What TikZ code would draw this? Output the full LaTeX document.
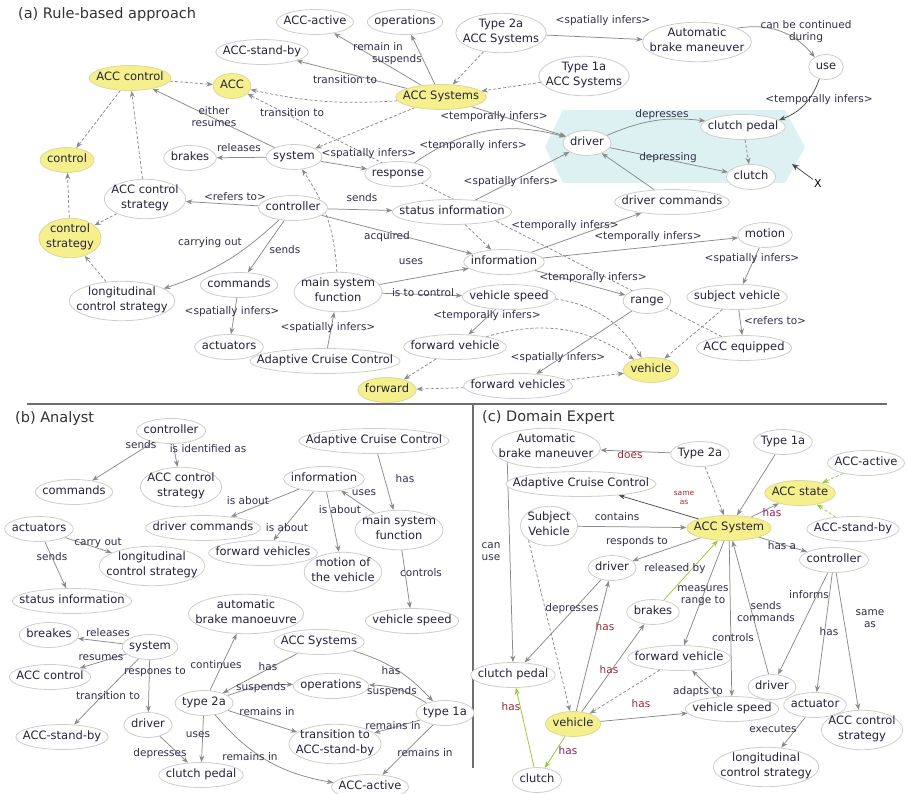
\documentclass[tikz,border=0pt]{standalone}
\usepackage{fontspec}
\setmainfont{DejaVu Sans}
\usetikzlibrary{arrows.meta,shapes.geometric}
\definecolor{ndline}{HTML}{CDCDCD}
\definecolor{ndtext}{HTML}{24243A}
\definecolor{lbtext}{HTML}{30304A}
\definecolor{edgec}{HTML}{8A8A8A}
\definecolor{yel}{HTML}{F6F08C}
\definecolor{yelline}{HTML}{DCD79A}
\definecolor{cyanbg}{HTML}{DDF0F2}
\definecolor{dred}{HTML}{9A2A35}
\definecolor{dpurp}{HTML}{8A2066}
\definecolor{lgreen}{HTML}{92CC2E}
\definecolor{divider}{HTML}{6E6E6E}
\newsavebox\ntbox
\newcommand\nt[1]{\sbox\ntbox{\begin{tabular}{@{}c@{}}#1\end{tabular}}%
  \makebox[0.7071\wd\ntbox][c]{\raisebox{0pt}[0.7071\ht\ntbox][0.7071\dp\ntbox]{\usebox\ntbox}}}
\pgfdeclarelayer{bg}
\pgfdeclarelayer{edges}
\pgfsetlayers{bg,edges,main}
\tikzset{
  nd/.style={ellipse, draw=ndline, line width=0.8pt, fill=white, text=ndtext,
    inner xsep=5pt, inner ysep=3.7pt, outer sep=0.4pt, font=\fontsize{11.5}{14.5}\selectfont},
  hl/.style={nd, fill=yel, draw=yelline},
  lbl/.style={text=lbtext, font=\fontsize{10.5}{12}\selectfont, inner sep=0pt, align=center},
  ttl/.style={anchor=west, inner sep=0pt, text=black!80, font=\fontsize{14.5}{17}\selectfont},
  e/.style={draw=edgec, line width=0.75pt, -{Stealth[length=6.5pt,width=5pt]}},
  ed/.style={e, dash pattern=on 3pt off 2pt},
  ek/.style={e, draw=black!70},
  eg/.style={e, draw=lgreen},
  egd/.style={ed, draw=lgreen},
}
\begin{document}
\begin{tikzpicture}[x=1pt,y=1pt]
\useasboundingbox (0,0) rectangle (910,-794);
\begin{pgfonlayer}{bg}
\fill[white] (0,0) rectangle (910,-794);
\fill[cyanbg] (563,-110) -- (785,-110) -- (805,-147) -- (785,-183) -- (563,-183) -- (545,-147) -- cycle;
\draw[divider, line width=1.6pt] (27,-404) -- (887,-404);
\draw[divider, line width=1.6pt] (473,-404) -- (473,-768);
\end{pgfonlayer}

% ---------------- (a) ----------------
\node[ttl] (aT) at (18,-15) {(a) Rule-based approach};
\node[nd] (aAccActive) at (315,-22) {\nt{ACC-active}};
\node[nd] (aOps) at (405,-22) {\nt{operations}};
\node[nd] (aT2a) at (501,-33) {\nt{Type 2a\\ACC Systems}};
\node[nd] (aABM) at (697,-42) {\nt{Automatic\\brake maneuver}};
\node[nd] (aUse) at (826,-67) {\nt{use}};
\node[nd] (aStandby) at (262,-52) {\nt{ACC-stand-by}};
\node[nd] (aT1a) at (584,-76) {\nt{Type 1a\\ACC Systems}};
\node[hl] (aAccCtrl) at (130,-78) {\nt{ACC control}};
\node[hl] (aAcc) at (232,-86) {\nt{ACC}};
\node[hl] (aSys) at (441,-97) {\nt{ACC Systems}};
\node[hl] (aControl) at (67,-160) {\nt{control}};
\node[nd] (aBrakes) at (190,-158) {\nt{brakes}};
\node[nd] (aSystem) at (294,-157) {\nt{system}};
\node[nd] (aResp) at (398,-174) {\nt{response}};
\node[nd] (aDriver) at (587,-143) {\nt{driver}};
\node[nd] (aCP) at (743,-127) {\nt{clutch pedal}};
\node[nd] (aClutch) at (751,-177) {\nt{clutch}};
\node[inner sep=1pt, text=black, font=\fontsize{11}{13}\selectfont] (aX) at (818,-183) {X};
\coordinate (aXt) at (792,-164);
\node[nd] (aACS) at (145,-199) {\nt{ACC control\\strategy}};
\node[nd] (aCtrl) at (293,-208) {\nt{controller}};
\node[nd] (aStatus) at (452,-212) {\nt{status information}};
\node[nd] (aDC) at (672,-202) {\nt{driver commands}};
\node[hl] (aCS) at (70,-238) {\nt{control\\strategy}};
\node[nd] (aInfo) at (504,-262) {\nt{information}};
\node[nd] (aMotion) at (765,-235) {\nt{motion}};
\node[nd] (aCmd) at (239,-285) {\nt{commands}};
\node[nd] (aLCS) at (122,-301) {\nt{longitudinal\\control strategy}};
\node[nd] (aMSF) at (338,-292) {\nt{main system\\function}};
\node[nd] (aVS) at (509,-297) {\nt{vehicle speed}};
\node[nd] (aRange) at (647,-301) {\nt{range}};
\node[nd] (aSV) at (737,-297) {\nt{subject vehicle}};
\node[nd] (aAct) at (229,-347) {\nt{actuators}};
\node[nd] (aAdapt) at (325,-361) {\nt{Adaptive Cruise Control}};
\node[nd] (aFV) at (455,-347) {\nt{forward vehicle}};
\node[nd] (aEquip) at (744,-348) {\nt{ACC equipped}};
\node[hl] (aVeh) at (651,-370) {\nt{vehicle}};
\node[nd] (aFVs) at (518,-386) {\nt{forward vehicles}};
\node[hl] (aFwd) at (387,-390) {\nt{forward}};

% ---------------- (b) ----------------
\node[ttl] (bT) at (15,-418) {(b) Analyst};
\node[nd] (bCtrl) at (171,-431) {\nt{controller}};
\node[nd] (bCmd) at (74,-492) {\nt{commands}};
\node[nd] (bACS) at (181,-487) {\nt{ACC control\\strategy}};
\node[nd] (bAdapt) at (374,-441) {\nt{Adaptive Cruise Control}};
\node[nd] (bInfo) at (324,-479) {\nt{information}};
\node[nd] (bMSF) at (399,-530) {\nt{main system\\function}};
\node[nd] (bAct) at (39,-529) {\nt{actuators}};
\node[nd] (bDC) at (203,-528) {\nt{driver commands}};
\node[nd] (bFVs) at (263,-553) {\nt{forward vehicles}};
\node[nd] (bMotion) at (343,-572) {\nt{motion of\\the vehicle}};
\node[nd] (bLCS) at (152,-566) {\nt{longitudinal\\control strategy}};
\node[nd] (bStatus) at (72,-601) {\nt{status information}};
\node[nd] (bVS) at (412,-621) {\nt{vehicle speed}};
\node[nd] (bABM) at (246,-614) {\nt{automatic\\brake manoeuvre}};
\node[nd] (bBreakes) at (49,-635) {\nt{breakes}};
\node[nd] (bSystem) at (150,-647) {\nt{system}};
\node[nd] (bSys) at (319,-642) {\nt{ACC Systems}};
\node[nd] (bAccCtrl) at (50,-677) {\nt{ACC control}};
\node[nd] (bOps) at (331,-686) {\nt{operations}};
\node[nd] (bT2a) at (204,-703) {\nt{type 2a}};
\node[nd] (bT1a) at (445,-713) {\nt{type 1a}};
\node[nd] (bDriver) at (148,-725) {\nt{driver}};
\node[nd] (bStandby) at (62,-737) {\nt{ACC-stand-by}};
\node[nd] (bTrans) at (335,-744) {\nt{transition to\\ACC-stand-by}};
\node[nd] (bCP) at (201,-775) {\nt{clutch pedal}};
\node[nd] (bActive) at (370,-787) {\nt{ACC-active}};

% ---------------- (c) ----------------
\node[ttl] (cT) at (482,-417) {(c) Domain Expert};
\node[nd] (cABM) at (546,-448) {\nt{Automatic\\brake maneuver}};
\node[nd] (cT2a) at (700,-454) {\nt{Type 2a}};
\node[nd] (cT1a) at (783,-442) {\nt{Type 1a}};
\node[nd] (cActive) at (866,-463) {\nt{ACC-active}};
\node[nd] (cAdapt) at (581,-484) {\nt{Adaptive Cruise Control}};
\node[hl] (cState) at (800,-493) {\nt{ACC state}};
\node[nd] (cSV) at (549,-526) {\nt{Subject\\Vehicle}};
\node[hl] (cSys) at (729,-528) {\nt{ACC System}};
\node[nd] (cStandby) at (853,-529) {\nt{ACC-stand-by}};
\node[nd] (cCtrl) at (834,-560) {\nt{controller}};
\node[nd] (cDriver) at (612,-568) {\nt{driver}};
\node[nd] (cBrakes) at (653,-612) {\nt{brakes}};
\node[nd] (cFV) at (679,-658) {\nt{forward vehicle}};
\node[nd] (cCP) at (513,-675) {\nt{clutch pedal}};
\node[nd] (cDriver2) at (772,-687) {\nt{driver}};
\node[nd] (cActuator) at (815,-705) {\nt{actuator}};
\node[nd] (cVS) at (732,-709) {\nt{vehicle speed}};
\node[hl] (cVeh) at (573,-724) {\nt{vehicle}};
\node[nd] (cACS) at (862,-730) {\nt{ACC control\\strategy}};
\node[nd] (cClutch) at (537,-780) {\nt{clutch}};
\node[nd] (cLCS) at (766,-767) {\nt{longitudinal\\control strategy}};

\begin{pgfonlayer}{edges}
% (a)
\draw[ed] (aAccCtrl) -- (aAcc);
\draw[ed] (aAccCtrl) -- (aControl);
\draw[ed] (aACS) -- (aAccCtrl);
\draw[ed] (aACS) -- (aCS);
\draw[ed] (aCS) -- (aControl);
\draw[ed] (aLCS) -- (aCS);
\draw[e] (aSys) -- (aAccActive);
\draw[e] (aSys) -- (aOps);
\draw[e] (aSys) -- (aStandby);
\draw[ed] (aT2a) -- (aSys);
\draw[ed] (aT1a) -- (aSys);
\draw[e] (aT2a) -- (aABM);
\draw[e] (aABM) to[bend left=30] (aUse);
\draw[ek] (aUse) to[bend left=25] (aCP);
\draw[ed] (aSys) to[bend left=8] (aAcc);
\draw[e] (aSystem) -- (aAccCtrl);
\draw[e] (aSystem) -- (aBrakes);
\draw[e] (aSystem) -- (aResp);
\draw[ed] (aSys) -- (aSystem);
\draw[e] (aSys) -- (aDriver);
\draw[e] (aResp) to[bend left=25] (aDriver);
\draw[e] (aStatus) -- (aDriver);
\draw[e] (aDC) -- (aDriver);
\draw[e] (aDriver) to[bend left=15] (aCP);
\draw[e] (aDriver) -- (aClutch);
\draw[ed] (aCP) -- (aClutch);
\draw[ek, -{Stealth[length=7pt,width=6pt]}] (aX) -- (aXt);
\draw[e] (aCtrl) -- (aACS);
\draw[e] (aCtrl) -- (aStatus);
\draw[e] (aCtrl) -- (aInfo);
\draw[e] (aCtrl) -- (aCmd);
\draw[e] (aCtrl) to[bend left=12] (aLCS);
\draw[e] (aMSF) -- (aInfo);
\draw[e] (aMSF) -- (aVS);
\draw[ed] (aMSF) to[bend right=15] (aSystem);
\draw[e] (aAdapt) -- (aMSF);
\draw[e] (aCmd) -- (aAct);
\draw[ed] (aStatus) -- (aInfo);
\draw[e] (aInfo) -- (aDC);
\draw[e] (aInfo) -- (aMotion);
\draw[e] (aInfo) -- (aRange);
\draw[e] (aMotion) -- (aSV);
\draw[e] (aSV) -- (aEquip);
\draw[ed] (aSV) -- (aVeh);
\draw[ed] (aEquip) -- (aAcc);
\draw[e] (aRange) -- (aFVs);
\draw[ed] (aFVs) -- (aFwd);
\draw[ed] (aFVs) -- (aVeh);
\draw[ed] (aFV) -- (aFwd);
\draw[ed] (aFV) to[bend left=25] (aVeh);
\draw[e] (aVS) -- (aFV);
\draw[ed] (aVS) to[bend left=25] (aVeh);
% (b)
\draw[e] (bCtrl) -- (bCmd);
\draw[e] (bCtrl) -- (bACS);
\draw[e] (bAdapt) -- (bMSF);
\draw[e] (bMSF) -- (bInfo);
\draw[e] (bInfo) -- (bDC);
\draw[e] (bInfo) -- (bFVs);
\draw[e] (bInfo) -- (bMotion);
\draw[e] (bMSF) -- (bVS);
\draw[e] (bAct) -- (bLCS);
\draw[e] (bAct) -- (bStatus);
\draw[e] (bSystem) -- (bBreakes);
\draw[e] (bSystem) -- (bAccCtrl);
\draw[e] (bSystem) -- (bStandby);
\draw[e] (bSystem) -- (bDriver);
\draw[e] (bDriver) -- (bCP);
\draw[e] (bT2a) -- (bABM);
\draw[e] (bT2a) -- (bCP);
\draw[e] (bSys) -- (bT2a);
\draw[e] (bSys) to[bend left=15] (bT1a);
\draw[e] (bT2a) to[bend left=10] (bOps);
\draw[e] (bT1a) to[bend right=15] (bOps);
\draw[e] (bT2a) -- (bTrans);
\draw[e] (bT1a) -- (bTrans);
\draw[e] (bT2a) to[bend right=20] (bActive);
\draw[e] (bT1a) -- (bActive);
% (c)
\draw[e] (cT2a) -- (cABM);
\draw[ed] (cT2a) -- (cSys);
\draw[e] (cT1a) -- (cSys);
\draw[ek] (cSys) -- (cAdapt);
\draw[e] (cSys) -- (cState);
\draw[egd] (cActive) -- (cState);
\draw[egd] (cStandby) -- (cState);
\draw[e] (cSV) -- (cSys);
\draw[e] (cSys) -- (cDriver);
\draw[eg] (cBrakes) -- (cSys);
\draw[e] (cSys) -- (cCtrl);
\draw[e] (cSys) -- (cFV);
\draw[e] (cSys) -- (cVS);
\draw[e] (cDriver2) -- (cSys);
\draw[e] (cCtrl) -- (cDriver2);
\draw[e] (cCtrl) -- (cActuator);
\draw[e] (cCtrl) -- (cACS);
\draw[e] (cActuator) -- (cLCS);
\draw[e] (cABM.south west) -- (cCP.north);
\draw[ed] (cSV.south west) -- (cVeh);
\draw[e] (cDriver) -- (cCP);
\draw[e] (cVeh) -- (cDriver);
\draw[e] (cVeh) -- (cBrakes);
\draw[e] (cVeh) -- (cVS);
\draw[ed] (cFV) -- (cVeh);
\draw[e] (cVS) -- (cFV);
\draw[eg] (cVeh) -- (cClutch);
\draw[eg] (cClutch) -- (cCP);
\end{pgfonlayer}

% ---------------- labels (a) ----------------
\node[lbl] (la1) at (378,-47) {remain in};
\node[lbl] (la2) at (397,-60) {suspends};
\node[lbl] (la3) at (345,-80) {transition to};
\node[lbl] (la4) at (603,-21) {<spatially infers>};
\node[lbl] (la5) at (806,-32) {can be continued\\during};
\node[lbl] (la6) at (819,-100) {<temporally infers>};
\node[lbl] (la7) at (662,-115) {depresses};
\node[lbl] (la8) at (668,-158) {depressing};
\node[lbl] (la9) at (214,-117) {either\\resumes};
\node[lbl] (la10) at (292,-113) {transition to};
\node[lbl] (la11) at (239,-148) {releases};
\node[lbl] (la12) at (494,-117) {<temporally infers>};
\node[lbl] (la13) at (369,-154) {<spatially infers>};
\node[lbl] (la14) at (473,-146) {<temporally infers>};
\node[lbl] (la15) at (511,-182) {<spatially infers>};
\node[lbl] (la16) at (235,-197) {<refers to>};
\node[lbl] (la17) at (362,-198) {sends};
\node[lbl] (la18) at (387,-237) {acquired};
\node[lbl] (la19) at (210,-243) {carrying out};
\node[lbl] (la20) at (285,-250) {sends};
\node[lbl] (la21) at (411,-262) {uses};
\node[lbl] (la22) at (423,-293) {is to control};
\node[lbl] (la23) at (565,-226) {<temporally infers>};
\node[lbl] (la24) at (648,-237) {<temporally infers>};
\node[lbl] (la25) at (593,-278) {<temporally infers>};
\node[lbl] (la26) at (752,-259) {<spatially infers>};
\node[lbl] (la27) at (775,-321) {<refers to>};
\node[lbl] (la28) at (232,-312) {<spatially infers>};
\node[lbl] (la29) at (328,-328) {<spatially infers>};
\node[lbl] (la30) at (487,-316) {<temporally infers>};
\node[lbl] (la31) at (558,-358) {<spatially infers>};

% ---------------- labels (b) ----------------
\node[lbl] (lb1) at (141,-445) {sends};
\node[lbl] (lb2) at (208,-449) {is identified as};
\node[lbl] (lb3) at (405,-479) {has};
\node[lbl] (lb4) at (364,-493) {uses};
\node[lbl] (lb5) at (248,-501) {is about};
\node[lbl] (lb6) at (340,-510) {is about};
\node[lbl] (lb7) at (287,-528) {is about};
\node[lbl] (lb8) at (98,-543) {carry out};
\node[lbl] (lb9) at (52,-557) {sends};
\node[lbl] (lb10) at (421,-573) {controls};
\node[lbl] (lb11) at (108,-633) {releases};
\node[lbl] (lb12) at (101,-658) {resumes};
\node[lbl] (lb13) at (155,-672) {respones to};
\node[lbl] (lb14) at (108,-696) {transition to};
\node[lbl] (lb15) at (216,-665) {continues};
\node[lbl] (lb16) at (268,-667) {has};
\node[lbl] (lb17) at (391,-671) {has};
\node[lbl] (lb18) at (261,-688) {suspends};
\node[lbl] (lb19) at (392,-692) {suspends};
\node[lbl] (lb20) at (267,-712) {remains in};
\node[lbl] (lb21) at (393,-726) {remains in};
\node[lbl] (lb22) at (198,-735) {uses};
\node[lbl] (lb23) at (160,-754) {depresses};
\node[lbl] (lb24) at (250,-757) {remains in};
\node[lbl] (lb25) at (425,-753) {remains in};

% ---------------- labels (c) ----------------
\node[lbl, text=dred] (lc1) at (630,-455) {does};
\node[lbl, text=dred, font=\fontsize{7.5}{9.5}\selectfont] (lc2) at (684,-498) {same\\as};
\node[lbl, text=dpurp] (lc3) at (772,-513) {has};
\node[lbl] (lc4) at (617,-517) {contains};
\node[lbl] (lc5) at (637,-542) {responds to};
\node[lbl] (lc6) at (782,-546) {has a};
\node[lbl] (lc7) at (675,-569) {released by};
\node[lbl] (lc8) at (703,-596) {measures\\range to};
\node[lbl] (lc9) at (809,-595) {informs};
\node[lbl] (lc10) at (491,-552) {can\\use};
\node[lbl] (lc11) at (572,-609) {depresses};
\node[lbl, text=dred] (lc12) at (605,-627) {has};
\node[lbl] (lc13) at (766,-612) {sends\\commands};
\node[lbl] (lc14) at (870,-619) {same\\as};
\node[lbl] (lc15) at (733,-638) {controls};
\node[lbl] (lc16) at (829,-632) {has};
\node[lbl, text=dred] (lc17) at (609,-670) {has};
\node[lbl] (lc18) at (698,-692) {adapts to};
\node[lbl, text=dred] (lc19) at (641,-704) {has};
\node[lbl, text=dred] (lc20) at (511,-707) {has};
\node[lbl, text=dpurp] (lc21) at (568,-751) {has};
\node[lbl] (lc22) at (773,-729) {executes};
\end{tikzpicture}
\end{document}
